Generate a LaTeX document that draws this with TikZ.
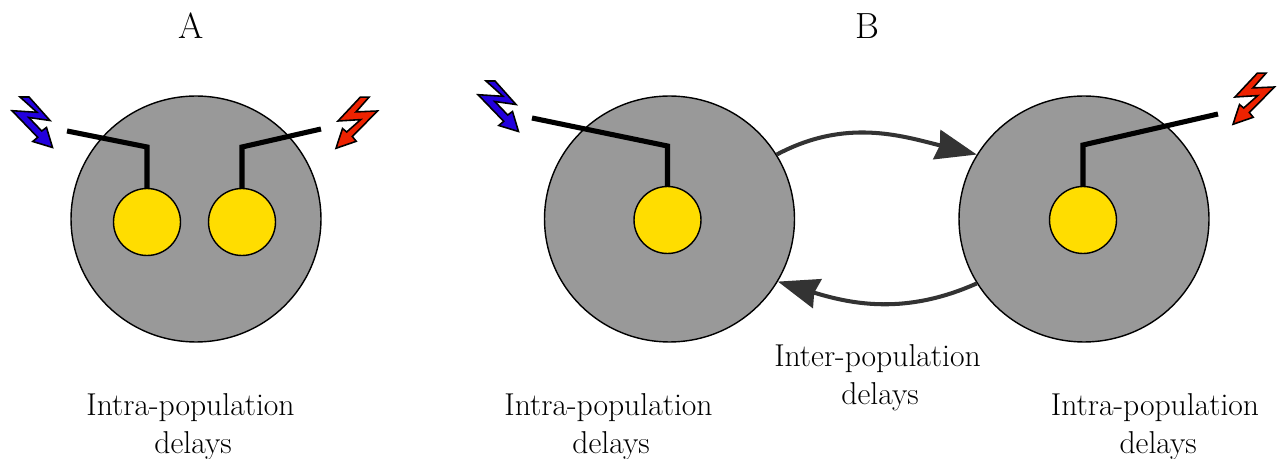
\documentclass[tikz,border=0pt]{standalone}
\usetikzlibrary{arrows.meta,positioning,calc,shapes.geometric}
\definecolor{population}{RGB}{153,153,153}
\definecolor{neuron}{RGB}{255,221,0}
\definecolor{stimblue}{RGB}{34,0,221}
\definecolor{stimred}{RGB}{238,34,0}
\definecolor{delaygray}{RGB}{51,51,51}

\tikzset{
    populationnode/.style={ellipse, draw=black, fill=population, line width=0.8pt, minimum width=5cm, minimum height=4.92cm, inner sep=0pt},
    neuronnode/.style={circle, draw=black, fill=neuron, line width=0.8pt, minimum size=1.34cm, inner sep=0pt},
    wire/.style={line width=2.9pt, line join=miter},
    delay/.style={delaygray, line width=2.3pt, -{Stealth[length=0.82cm, width=0.6cm, inset=0.06cm]}},
    caption/.style={font=\fontsize{18}{21.8}\selectfont, align=center},
    title/.style={font=\fontsize{20.7}{25}\selectfont},
    boltline/.style={draw=black, line width=0.9pt, line join=miter},
    pics/bluebolt/.style={code={
        \draw[boltline, fill=stimblue] (20,97) -- (29,97) -- (50,120.5) -- (28.8,117.5) -- (41.7,131)
            -- (46.5,127.5) -- (52.5,147.5) -- (32.8,141.5) -- (37.7,137.3) -- (12,110.7) -- (37,112.3) -- cycle;
    }},
    pics/redbolt/.style={code={
        \draw[boltline, fill=stimred] (360.3,97.2) -- (369,97.2) -- (356,111.9) -- (377.5,111) -- (352.3,136.5)
            -- (356.2,141.3) -- (336,148.3) -- (342.5,128.5) -- (346.7,132) -- (360.7,119.6) -- (338,121) -- cycle;
    }},
}

\begin{document}
\begin{tikzpicture}[x=0.02cm, y=-0.02cm, >=Stealth]

    \useasboundingbox (0,0) rectangle (1282,459);

    % Panel titles
    \node[title] (titleA) at (191,26) {A};
    \node[title] (titleB) at (867,26) {B};

    % Populations
    \node[populationnode] (popA) at (196,219) {};
    \node[populationnode] (popL) at (669.5,219) {};
    \node[populationnode] (popR) at (1084,219) {};

    % Neurons
    \node[neuronnode] (cellAL) at (147,222) {};
    \node[neuronnode] (cellAR) at (242,222) {};
    \node[neuronnode] (cellL) at (667.5,220) {};
    \node[neuronnode] (cellR) at (1083,220) {};

    % Input wires
    \foreach \name/\x/\y/\kx/\ky/\target in {wireAL/67/131/147/147/cellAL, wireAR/321/129/242/147/cellAR,
                                             wireL/532/118/667.5/146/cellL, wireR/1218/114/1083/145/cellR} {
        \coordinate (\name) at (\x,\y);
        \coordinate (\name knee) at (\kx,\ky);
        \draw[wire] (\name) -- (\name knee) -- (\target.north);
    }

    % Stimuli
    \pic {bluebolt};
    \pic[shift={(466,-16)}] {bluebolt};
    \pic {redbolt};
    \pic[shift={(897,-24)}] {redbolt};

    % Inter-population delays
    \draw[delay] (popL.31) to[out=28, in=166] (popR.149.5);
    \draw[delay] (popR.211) to[out=204, in=343] (popL.330);

    % Annotations
    \node[caption] (delaysA) at (190.5,427) {Intra-population\\\hspace*{0.16em}delays};
    \node[caption] (delaysL) at (608.5,427) {Intra-population\\\hspace*{0.16em}delays};
    \node[caption] (delaysR) at (1155,427) {Intra-population\\\hspace*{0.2em}delays};
    \node[caption] (delaysI) at (877.5,378) {Inter-population\\\hspace*{0.16em}delays};

\end{tikzpicture}
\end{document}
